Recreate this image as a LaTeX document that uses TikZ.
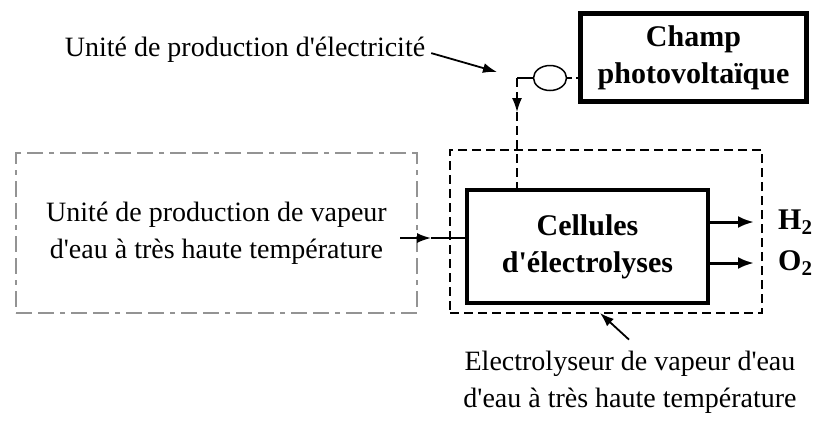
\documentclass[tikz,border=0pt]{standalone}
\usepackage{fontspec}
\setmainfont{Liberation Serif}[Ligatures=TeXOff]
\usetikzlibrary{shapes.geometric,arrows.meta,positioning,calc}

\begin{document}
\begin{tikzpicture}[
    x=1pt, y=-1pt,
    txt/.style={font=\fontsize{28}{37}\selectfont, align=center, inner sep=2pt},
    boldtxt/.style={font=\fontsize{30}{37}\selectfont\bfseries, align=center},
    thickbox/.style={rectangle, draw, line width=4.5pt, inner sep=0pt},
    dashbox/.style={rectangle, draw, dashed, line width=1.5pt,
        dash pattern=on 9pt off 5pt, inner sep=0pt},
    ptr/.style={-{Latex[length=14pt,width=10pt]}, line width=1.8pt},
    wire/.style={line width=1.5pt},
    outarrow/.style={-{Latex[length=16pt,width=12pt]}, line width=3pt}
]
\useasboundingbox (0,0) rectangle (821,421);

% Production d'electricite
\node[thickbox, minimum width=226pt, minimum height=88pt,
      boldtxt] (pv) at (693.5,57.5) {Champ\\photovolta\"ique};
\node[ellipse, draw, line width=1.5pt, minimum width=33pt,
      minimum height=25pt, inner sep=0pt] (conv) at (550,78) {};
\node[txt] (ulab) at (245,50) {Unité de production d'électricité};
\coordinate (uptr) at (497,72);
\draw[ptr, shorten <=4pt] ([yshift=-2pt]ulab.east) -- (uptr);

% Electrolyseur
\node[dashbox, minimum width=312pt, minimum height=163pt] (elec) at (606,231.5) {};
\node[thickbox, minimum width=241pt, minimum height=113pt,
      boldtxt] (cell) at (587.5,246.5) {Cellules\\d'électrolyses};

% Liaison electrique
\coordinate (junc) at (517,78);
\coordinate (jtip) at (517,112);
\draw[wire] (conv.west) -- (junc);
\draw[wire, dash pattern=on 5pt off 4pt] (conv.east) -- (pv.west |- conv.east);
\draw[wire, dash pattern=on 9pt off 5pt, -{Latex[length=14pt,width=10pt]}] (junc) -- (jtip);
\draw[wire, dash pattern=on 9pt off 5pt] (jtip) -- (cell.north -| jtip);

% Production de vapeur
\node[rectangle, draw=gray!85, line width=1.5pt,
      dash pattern=on 16pt off 6pt on 16pt off 6pt on 5pt off 6pt,
      minimum width=401pt, minimum height=160pt, txt] (vap) at (216.5,233)
      {Unité de production de vapeur\\d'eau à très haute température};
\coordinate (vin) at (400,238);
\coordinate (vtip) at (431,238);
\draw[ptr] (vin) -- (vtip);
\draw[wire] (vtip) -- (cell.west |- vtip);

% Sorties
\node[boldtxt, anchor=west, inner sep=0pt] (h2) at (778,222) {H$_{\mathbf 2}$};
\node[boldtxt, anchor=west, inner sep=0pt] (o2) at (778,263) {O$_{\mathbf 2}$};
\draw[outarrow, shorten >=24pt] (cell.east |- h2.west) -- (h2.west);
\draw[outarrow, shorten >=24pt] (cell.east |- o2.west) -- (o2.west);

% Legende electrolyseur
\node[txt] (elab) at (630,382) {Electrolyseur de vapeur d'eau\\d'eau à très haute température};
\coordinate (eptr) at (600,313);
\draw[ptr] ([xshift=-1pt,yshift=9pt]elab.north) -- (eptr);

\end{tikzpicture}
\end{document}
